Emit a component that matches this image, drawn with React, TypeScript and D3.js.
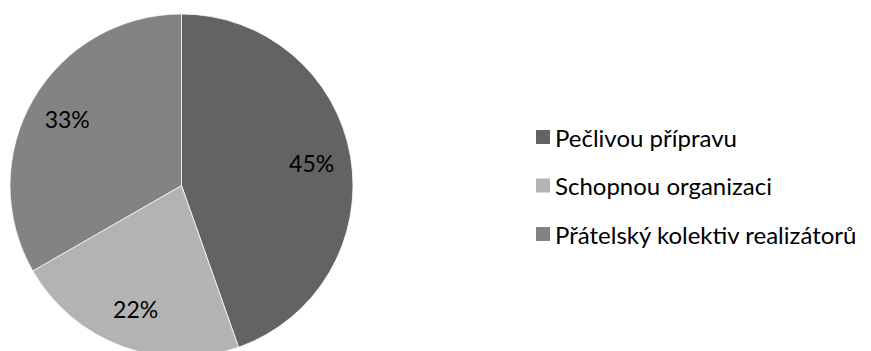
import React from "react";
import * as d3 from "d3";

const categories = ["Pečlivou přípravu", "Schopnou organizaci", "Přátelský kolektiv realizátorů"];
const values = [44.6, 22.1, 33.3];
const colors = ["#636363", "#b3b3b3", "#838383"];

const W = 871;
const H = 351;
const cx = 181.5;
const cy = 185.5;
const R = 171.5;
const FONT = "Lato, 'Open Sans', sans-serif";

export default function App() {
  const total = d3.sum(values);
  const pie = d3.pie<number>().sort(null).value((d) => d)(values);
  const arc = d3.arc<d3.PieArcDatum<number>>().innerRadius(0).outerRadius(R);
  const labelArc = d3.arc<d3.PieArcDatum<number>>().innerRadius(R * 0.77).outerRadius(R * 0.77);
  const legendY = d3.scalePoint<number>().domain(d3.range(categories.length)).range([137, 234]);

  return (
    <svg width={W} height={H} style={{ position: "absolute", left: 0, top: 0, background: "#fff" }}>
      <g transform={`translate(${cx},${cy})`}>
        {pie.map((p, i) => (
          <path key={i} d={arc(p) || ""} fill={colors[i]} stroke="#ffffff" strokeWidth={0.75} />
        ))}
        {pie.map((p, i) => {
          const [x, y] = labelArc.centroid(p);
          return (
            <text key={i} x={x} y={y} textAnchor="middle" dominantBaseline="central" fontFamily={FONT} fontSize={23} fill="#000">
              {Math.round((values[i] / total) * 100)}%
            </text>
          );
        })}
      </g>
      <g>
        {categories.map((c, i) => (
          <g key={i} transform={`translate(536,${legendY(i)})`}>
            <rect x={0} y={-7} width={14} height={14} fill={colors[i]} />
            <text x={19} y={0} dominantBaseline="central" fontFamily={FONT} fontSize={24} fill="#000">
              {c}
            </text>
          </g>
        ))}
      </g>
    </svg>
  );
}
